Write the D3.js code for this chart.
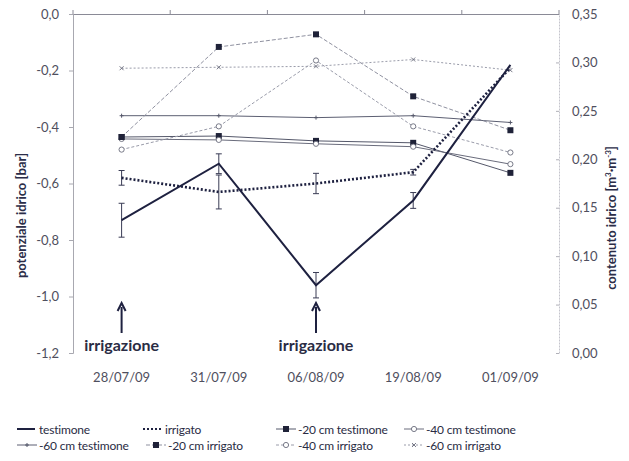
<!DOCTYPE html>
<html>
<head>
<meta charset="utf-8">
<script src="https://cdn.jsdelivr.net/npm/d3@7"></script>
<style>
  html, body { margin: 0; padding: 0; background: #fff; }
  svg { display: block; font-family: Lato, "Open Sans", sans-serif; }
</style>
</head>
<body>
<svg id="chart" width="629" height="461"></svg>
<script>
// Sampling dates
const dates = ["28/07/09", "31/07/09", "06/08/09", "19/08/09", "01/09/09"];

// Soil water potential [bar] (left axis) with standard errors
const testimone = [-0.73, -0.53, -0.96, -0.66, -0.18];
const testimoneErr = [0.06, 0.035, 0.045, 0.028, 0];
const irrigato = [-0.58, -0.63, -0.60, -0.56, -0.19];
const irrigatoErr = [0.026, 0.06, 0.036, 0.01, 0];

// Soil water content [m3/m3] (right axis) by depth
const cm20Testimone = [0.223, 0.224, 0.219, 0.217, 0.186];
const cm20Irrigato  = [0.223, 0.316, 0.329, 0.265, 0.230];
const cm40Testimone = [0.221, 0.220, 0.216, 0.213, 0.195];
const cm40Irrigato  = [0.210, 0.234, 0.302, 0.234, 0.207];
const cm60Testimone = [0.245, 0.245, 0.243, 0.245, 0.238];
const cm60Irrigato  = [0.294, 0.295, 0.296, 0.303, 0.292];

// Axis ticks
const leftTicks = [0, -0.2, -0.4, -0.6, -0.8, -1.0, -1.2];
const rightTicks = [0, 0.05, 0.10, 0.15, 0.20, 0.25, 0.30, 0.35];

// Irrigation events
const irrigationDates = ["28/07/09", "06/08/09"];

const svg = d3.select("#chart");
const plotLeft = 73, plotRight = 559, plotTop = 14, plotBottom = 353;

const x = d3.scaleBand().domain(dates).range([plotLeft, plotRight]).padding(0);
const cx = d => x(d) + x.bandwidth() / 2;
const yL = d3.scaleLinear().domain([-1.2, 0]).range([plotBottom, plotTop]);
const yR = d3.scaleLinear().domain([0, 0.35]).range([plotBottom, plotTop]);

const comma = (v, n) => v.toFixed(n).replace(".", ",");
const ink = "#1e2140";
const textCol = "#4f4f5e";

// Left axis
const gL = svg.append("g").attr("transform", `translate(${plotLeft},0)`)
  .call(d3.axisLeft(yL).tickValues(leftTicks).tickSize(4).tickPadding(10)
    .tickFormat(d => comma(d, 1)));
gL.select(".domain").attr("stroke", "#a8a8b0");
gL.selectAll(".tick line").attr("stroke", "#a8a8b0");
gL.selectAll(".tick text").attr("fill", textCol).style("font-size", "13px")
  .style("font-family", "Lato, sans-serif");

// Right axis
const gR = svg.append("g").attr("transform", `translate(${plotRight},0)`)
  .call(d3.axisRight(yR).tickValues(rightTicks).tickSize(0).tickPadding(13)
    .tickFormat(d => comma(d, 2)));
gR.select(".domain").attr("stroke", "#c4c4cc").attr("stroke-dasharray", "2,1");
gR.selectAll(".tick line").remove();
gR.selectAll(".tick").append("line").attr("x1", -3).attr("x2", 0).attr("stroke", "#b0b0b8");
gR.selectAll(".tick text").attr("fill", textCol).style("font-size", "13px")
  .style("font-family", "Lato, sans-serif");

// Category axis along the zero line, labels at the bottom
const gX = svg.append("g").attr("transform", `translate(0,${yL(0)})`)
  .call(d3.axisTop(x).tickSize(0).tickFormat(""));
gX.select(".domain").attr("stroke", "#8a8a96");
gX.selectAll(".tick").remove();
const bounds = dates.map(d => x(d)).concat([plotRight]);
gX.selectAll("line.b").data(bounds).join("line")
  .attr("x1", d => d).attr("x2", d => d).attr("y1", -4).attr("y2", 0)
  .attr("stroke", "#8a8a96");
svg.append("g").selectAll("text").data(dates).join("text")
  .attr("x", d => cx(d)).attr("y", 382).attr("text-anchor", "middle")
  .attr("fill", textCol).style("font-size", "13px").text(d => d);

// Axis titles
svg.append("text")
  .attr("transform", `translate(26,${(150 + 281) / 2}) rotate(-90)`)
  .attr("text-anchor", "middle").attr("fill", "#2b2d48")
  .style("font-size", "13px").style("font-weight", "700")
  .text("potenziale idrico [bar]");
const rt = svg.append("text")
  .attr("transform", `translate(616,${(143 + 293) / 2}) rotate(-90)`)
  .attr("text-anchor", "middle").attr("fill", "#2b2d48")
  .style("font-size", "13px").style("font-weight", "700");
rt.append("tspan").text("contenuto idrico [m");
rt.append("tspan").attr("dy", -5).style("font-size", "8px").text("3");
rt.append("tspan").attr("dy", 5).text("·m");
rt.append("tspan").attr("dy", -5).style("font-size", "8px").text("-3");
rt.append("tspan").attr("dy", 5).text("]");

// Water content series (thin lines)
const contentSeries = [
  { key: "-20 cm testimone", values: cm20Testimone, stroke: "#55586a", dash: null, marker: "square" },
  { key: "-40 cm testimone", values: cm40Testimone, stroke: "#6a6c7c", dash: null, marker: "circle" },
  { key: "-60 cm testimone", values: cm60Testimone, stroke: "#5c5f72", dash: null, marker: "plus" },
  { key: "-20 cm irrigato", values: cm20Irrigato, stroke: "#8f91a0", dash: "4,2", marker: "square" },
  { key: "-40 cm irrigato", values: cm40Irrigato, stroke: "#9a9caa", dash: "3,2", marker: "circle" },
  { key: "-60 cm irrigato", values: cm60Irrigato, stroke: "#9a9caa", dash: "2,2", marker: "cross" }
];

const lineR = d3.line().x((d, i) => cx(dates[i])).y(d => yR(d));

function drawMarker(g, type, px, py) {
  if (type === "square") {
    g.append("rect").attr("x", px - 3).attr("y", py - 3).attr("width", 6).attr("height", 6)
      .attr("fill", "#1f2238");
  } else if (type === "circle") {
    g.append("circle").attr("cx", px).attr("cy", py).attr("r", 2.6)
      .attr("fill", "#fff").attr("stroke", "#6a6c7c").attr("stroke-width", 0.9);
  } else if (type === "plus") {
    g.append("path").attr("d", `M${px - 2},${py}H${px + 2}M${px},${py - 2}V${py + 2}`)
      .attr("stroke", "#55586a").attr("stroke-width", 1);
  } else if (type === "cross") {
    g.append("path").attr("d", `M${px - 2},${py - 2}L${px + 2},${py + 2}M${px + 2},${py - 2}L${px - 2},${py + 2}`)
      .attr("stroke", "#6a6c7c").attr("stroke-width", 0.9);
  }
}

const gC = svg.append("g");
contentSeries.forEach(s => {
  gC.append("path").attr("d", lineR(s.values)).attr("fill", "none")
    .attr("stroke", s.stroke).attr("stroke-width", 1)
    .attr("stroke-dasharray", s.dash);
});
contentSeries.forEach(s => {
  s.values.forEach((v, i) => drawMarker(gC, s.marker, cx(dates[i]), yR(v)));
});

// Water potential series (thick lines with error bars)
const lineL = d3.line().x((d, i) => cx(dates[i])).y(d => yL(d));
const gP = svg.append("g");

function errorBars(vals, errs) {
  vals.forEach((v, i) => {
    if (!errs[i]) return;
    const px = cx(dates[i]);
    const y1 = yL(v + errs[i]), y2 = yL(v - errs[i]);
    gP.append("path")
      .attr("d", `M${px},${y1}V${y2}M${px - 3},${y1}H${px + 3}M${px - 3},${y2}H${px + 3}`)
      .attr("stroke", "#3a3c55").attr("stroke-width", 1).attr("fill", "none");
  });
}
errorBars(irrigato, irrigatoErr);
errorBars(testimone, testimoneErr);

gP.append("path").attr("d", lineL(irrigato)).attr("fill", "none")
  .attr("stroke", ink).attr("stroke-width", 2.6).attr("stroke-dasharray", "2,2");
gP.append("path").attr("d", lineL(testimone)).attr("fill", "none")
  .attr("stroke", ink).attr("stroke-width", 2);

// Irrigation annotations
const gA = svg.append("g");
irrigationDates.forEach(d => {
  const px = cx(d);
  gA.append("line").attr("x1", px).attr("x2", px).attr("y1", 333).attr("y2", 307)
    .attr("stroke", ink).attr("stroke-width", 2);
  gA.append("path").attr("d", `M${px - 4},${311}L${px},${303}L${px + 4},${311}`)
    .attr("fill", "none").attr("stroke", ink).attr("stroke-width", 2);
  gA.append("text").attr("x", px).attr("y", 351).attr("text-anchor", "middle")
    .attr("fill", "#2a2c44").style("font-size", "16px").style("font-weight", "700")
    .text("irrigazione");
});

// Legend
const legendItems = [
  { key: "testimone", type: "thick", x: 17, row: 0 },
  { key: "irrigato", type: "dotted", x: 143, row: 0 },
  { key: "-20 cm testimone", type: 0, x: 276, row: 0 },
  { key: "-40 cm testimone", type: 1, x: 404, row: 0 },
  { key: "-60 cm testimone", type: 2, x: 17, row: 1 },
  { key: "-20 cm irrigato", type: 3, x: 146, row: 1 },
  { key: "-40 cm irrigato", type: 4, x: 276, row: 1 },
  { key: "-60 cm irrigato", type: 5, x: 404, row: 1 }
];
const gLeg = svg.append("g");
legendItems.forEach(it => {
  const ly = 429 + it.row * 16;
  const x0 = it.x, x1 = it.x + 20;
  if (it.type === "thick") {
    gLeg.append("line").attr("x1", x0).attr("x2", x1 - 2).attr("y1", ly).attr("y2", ly)
      .attr("stroke", ink).attr("stroke-width", 2);
  } else if (it.type === "dotted") {
    gLeg.append("line").attr("x1", x0).attr("x2", x1).attr("y1", ly).attr("y2", ly)
      .attr("stroke", ink).attr("stroke-width", 2.2).attr("stroke-dasharray", "2,2");
  } else {
    const s = contentSeries[it.type];
    gLeg.append("line").attr("x1", x0).attr("x2", x1).attr("y1", ly).attr("y2", ly)
      .attr("stroke", s.stroke).attr("stroke-width", 1).attr("stroke-dasharray", s.dash);
    drawMarker(gLeg, s.marker, (x0 + x1) / 2, ly);
  }
  gLeg.append("text").attr("x", x1 + 2).attr("y", ly + 4.5)
    .attr("fill", "#2a2c44").style("font-size", "12px").style("letter-spacing", "-0.2px")
    .text(it.key);
});
</script>
</body>
</html>
